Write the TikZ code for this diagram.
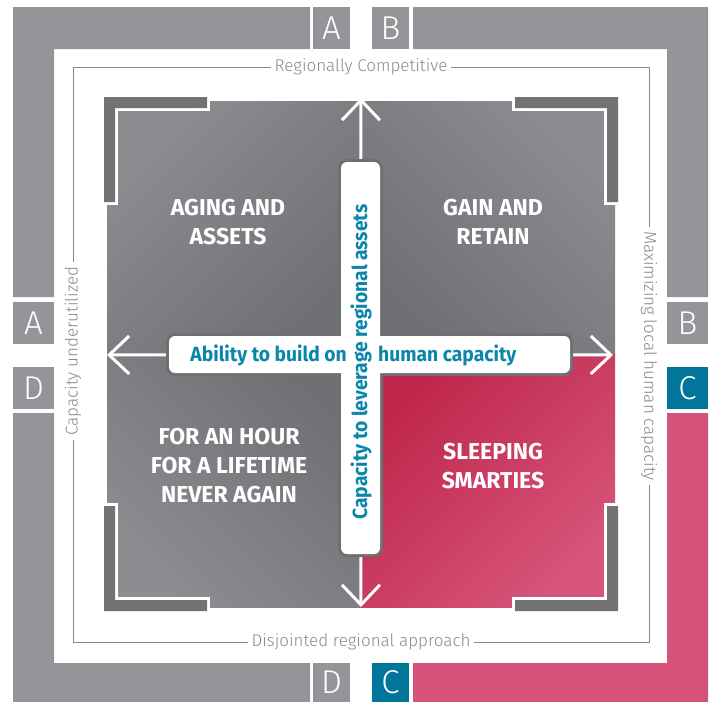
\documentclass[tikz,border=0pt]{standalone}
\usepackage{fontspec}
\setmainfont{Fira Sans}
\IfFontExistsTF{Fira Sans Light}{\newfontfamily\thinfont{Fira Sans Light}}{\newfontfamily\thinfont{Fira Sans}}
\newfontfamily\condfont{Fira Sans}[FakeStretch=0.94]
\usepackage{tikz}
\usetikzlibrary{positioning, arrows.meta, calc}

\definecolor{bandgray}{HTML}{939598}
\definecolor{bandpink}{HTML}{D5537A}
\definecolor{tealbox}{HTML}{00769B}
\definecolor{linegray}{HTML}{8A8A8C}
\definecolor{bracketgray}{HTML}{727272}
\definecolor{quadlight}{HTML}{8B8D90}
\definecolor{quaddark}{HTML}{6D6F72}
\definecolor{pinkdark}{HTML}{BF2449}
\definecolor{pinklight}{HTML}{D7557B}
\definecolor{crossgray}{HTML}{6E6F71}
\definecolor{tealtext}{HTML}{0A86AC}

\pgfdeclarelayer{back}
\pgfdeclarelayer{mid}
\pgfsetlayers{back,mid,main}

\tikzset{
	letterbox/.style={fill=bandgray, text=white, inner sep=0,
		font=\thinfont\fontsize{33}{33}\selectfont},
	edgelabel/.style={fill=white, text=linegray, inner sep=4,
		font=\thinfont\fontsize{17}{17}\selectfont},
	quadlabel/.style={text=white, align=center,
		font=\bfseries\fontsize{23}{29}\selectfont},
	crossbar/.style={draw=crossgray, line width=6, fill=white,
		rounded corners=6, inner sep=0, outer sep=0},
	crosslabel/.style={text=tealtext, inner sep=0,
		font=\condfont\bfseries\fontsize{20.5}{20.5}\selectfont},
	arrowline/.style={white, line width=3, -{Straight Barb[length=20pt, width=38pt]}},
	bracket/.style={fill=bracketgray},
}

\begin{document}
\begin{tikzpicture}[x=1pt, y=-1pt]
	
	\useasboundingbox (0,0) rectangle (716,702);
	\coordinate (mid) at (361,354);
	
	\begin{pgfonlayer}{back}
		\fill[white] (0,0) rectangle (716,702);
		
		% Outer bands
		\fill[bandgray] (13,7) -- (310,7) -- (310,49) -- (54,49) -- (54,297) -- (13,297) -- cycle;
		\fill[bandgray] (413,7) -- (708,7) -- (708,297) -- (667,297) -- (667,49) -- (413,49) -- cycle;
		\fill[bandgray] (13,413) -- (54,413) -- (54,663) -- (310,663) -- (310,702) -- (13,702) -- cycle;
		\fill[bandpink] (667,413) -- (708,413) -- (708,702) -- (413,702) -- (413,663) -- (667,663) -- cycle;
		
		% Thin frame
		\draw[linegray, line width=1] (73,67) rectangle (649,642);
		
		% Quadrants
		\shade[top color=quadlight, bottom color=quaddark, shading angle=45]
		(107,101) rectangle (mid);
		\shade[top color=quadlight, bottom color=quaddark, shading angle=-45]
		(615,101) rectangle (mid);
		\shade[top color=quadlight, bottom color=quaddark, shading angle=135]
		(107,607) rectangle (mid);
		\shade[top color=pinklight, bottom color=pinkdark, shading angle=-135]
		(615,607) rectangle (mid);
		
		% Corner brackets
		\foreach \sx/\sy in {1/1, -1/1, 1/-1, -1/-1}{
			\begin{scope}[shift={(mid)}, xscale=\sx, yscale=\sy]
				\fill[white, draw=white, line width=6]
				(-257,-257) -- (-154,-257) -- (-154,-246) -- (-246,-246) -- (-246,-152) -- (-257,-152) -- cycle;
				\fill[bracket]
				(-257,-257) -- (-154,-257) -- (-154,-246) -- (-246,-246) -- (-246,-152) -- (-257,-152) -- cycle;
			\end{scope}
		}
	\end{pgfonlayer}
	
	% Letter boxes
	\node[letterbox, minimum width=37, minimum height=42] (atop) at (331.5,28) {A};
	\node[letterbox, minimum width=41, minimum height=42] (aleft) at (33.5,323) {A};
	\node[letterbox, minimum width=37, minimum height=42] (btop) at (390.5,28) {B};
	\node[letterbox, minimum width=41, minimum height=42] (bright) at (687.5,323) {B};
	\node[letterbox, fill=tealbox, minimum width=41, minimum height=42] (cright) at (687.5,388) {C};
	\node[letterbox, fill=tealbox, minimum width=37, minimum height=39] (cbottom) at (390.5,682.5) {C};
	\node[letterbox, minimum width=41, minimum height=42] (dleft) at (33.5,388) {D};
	\node[letterbox, minimum width=37, minimum height=39] (dbottom) at (331.5,682.5) {D};
	
	% Frame labels
	\node[edgelabel] (compet) at ($(mid) + (0,-287)$) {Regionally Competitive};
	\node[edgelabel] (disjoint) at ($(mid) + (0,288)$) {Disjointed regional approach};
	\node[edgelabel, rotate=90] (underused) at ($(mid) + (-288,-3)$) {Capacity underutilized};
	\node[edgelabel, rotate=-90] (maximize) at ($(mid) + (288,2)$) {Maximizing local human capacity};
	
	% Quadrant labels
	\node[quadlabel] (aging) at ($(mid) + (-133,-132)$) {AGING AND\\ASSETS};
	\node[quadlabel] (gain) at ($(mid) + (132,-132)$) {GAIN AND\\RETAIN};
	\node[quadlabel] (hour) at ($(mid) + (-132,112)$) {FOR AN HOUR\\FOR A LIFETIME\\NEVER AGAIN};
	\node[quadlabel] (sleep) at ($(mid) + (132,112)$) {SLEEPING\\SMARTIES};
	
	% Cross
	\node[crossbar, minimum width=401, minimum height=37] (hbar) at ($(mid) + (8.5,0.5)$) {};
	\node[crossbar, minimum width=39, minimum height=392] (vbar) at ($(mid) + (-0.5,4)$) {};
	\fill[white, rounded corners=6] (hbar.south west) rectangle (hbar.north east);
	\fill[white, rounded corners=6] (vbar.south west) rectangle (vbar.north east);
	
	\node[crosslabel, anchor=east] (ability) at ($(mid) + (-14,1)$) {Ability to build on};
	\node[crosslabel, anchor=west] (human) at ($(mid) + (17,1)$) {human capacity};
	\node[crosslabel, rotate=90] (leverage) at ($(mid) + (0,8)$) {Capacity to leverage regional assets};
	
	% Arrows
	\coordinate (uptip) at ($(mid) + (0,-256)$);
	\coordinate (downtip) at ($(mid) + (0,253)$);
	\coordinate (lefttip) at ($(mid) + (-254,1)$);
	\coordinate (righttip) at ($(mid) + (252,1)$);
	\begin{pgfonlayer}{mid}
		\draw[arrowline] (vbar.center) -- (uptip);
		\draw[arrowline] (vbar.center) -- (downtip);
		\draw[arrowline] (hbar.center) -- (lefttip);
		\draw[arrowline] (hbar.center) -- (righttip);
	\end{pgfonlayer}
	
\end{tikzpicture}
\end{document}
